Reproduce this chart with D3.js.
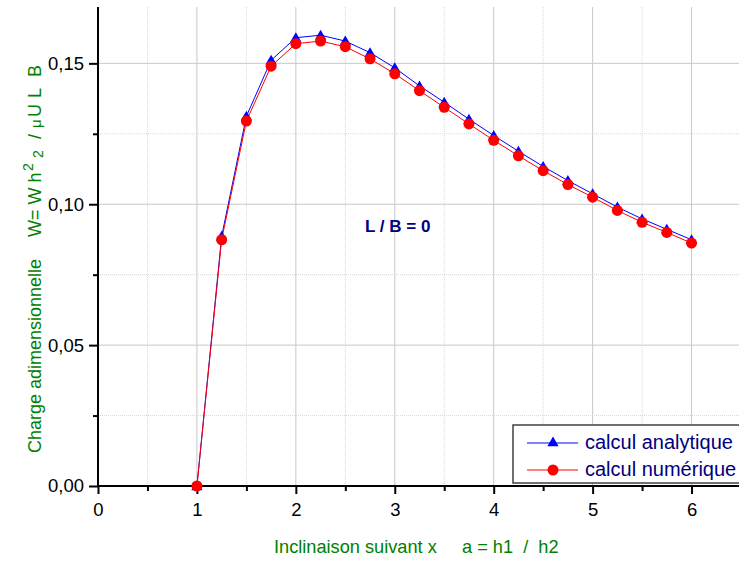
<!DOCTYPE html>
<html>
<head>
<meta charset="utf-8">
<script src="https://cdn.jsdelivr.net/npm/d3@7"></script>
<style>
  html, body { margin: 0; padding: 0; background: #ffffff; }
  svg { display: block; }
  text { font-family: Arial, "Liberation Sans", sans-serif; }
</style>
</head>
<body>
<svg id="chart" width="739" height="563"></svg>
<script>
// ---- data ----
const xValues = [1, 1.25, 1.5, 1.75, 2, 2.25, 2.5, 2.75, 3, 3.25, 3.5, 3.75, 4, 4.25, 4.5, 4.75, 5, 5.25, 5.5, 5.75, 6];
const analytique = [0, 0.0886, 0.1312, 0.1511, 0.1591, 0.1600, 0.1579, 0.1538, 0.1484, 0.1420, 0.1362, 0.1302, 0.1244, 0.1188, 0.1134, 0.1084, 0.1037, 0.0990, 0.0948, 0.0911, 0.0874];
const numerique  = [0, 0.0874, 0.1295, 0.1490, 0.1570, 0.1579, 0.1559, 0.1516, 0.1463, 0.1403, 0.1344, 0.1285, 0.1227, 0.1172, 0.1119, 0.1070, 0.1025, 0.0978, 0.0936, 0.0900, 0.0862];
const xMajorTicks = [0, 1, 2, 3, 4, 5, 6];
const xMinorTicks = [0.5, 1.5, 2.5, 3.5, 4.5, 5.5, 6.5];
const yMajorTicks = [0, 0.05, 0.10, 0.15];
const yMinorTicks = [0.025, 0.075, 0.125];
const seriesNames = ["calcul analytique", "calcul numérique"];
const annotation = "L / B = 0";

// ---- layout ----
const svg = d3.select("#chart");
const x = d3.scaleLinear().domain([0, 6.5]).range([98, 741]);
const y = d3.scaleLinear().domain([0, 0.17]).range([486, 7]);
const fmt = v => d3.format(".2f")(v).replace(".", ",");
const navy = "#000080";
const green = "#008000";

// grid
const grid = svg.append("g");
grid.selectAll(".vmaj").data(xMajorTicks.filter(d => d > 0)).enter().append("line")
  .attr("x1", d => x(d)).attr("x2", d => x(d)).attr("y1", y(0.17)).attr("y2", y(0))
  .attr("stroke", "#c8c8c8").attr("stroke-width", 1);
grid.selectAll(".vmin").data(xMinorTicks).enter().append("line")
  .attr("x1", d => x(d)).attr("x2", d => x(d)).attr("y1", y(0.17)).attr("y2", y(0))
  .attr("stroke", "#d8d8d8").attr("stroke-width", 1).attr("stroke-dasharray", "1,1");
grid.selectAll(".hmaj").data(yMajorTicks.filter(d => d > 0)).enter().append("line")
  .attr("x1", x(0)).attr("x2", x(6.5)).attr("y1", d => y(d)).attr("y2", d => y(d))
  .attr("stroke", "#c8c8c8").attr("stroke-width", 1);
grid.selectAll(".hmin").data(yMinorTicks).enter().append("line")
  .attr("x1", x(0)).attr("x2", x(6.5)).attr("y1", d => y(d)).attr("y2", d => y(d))
  .attr("stroke", "#d8d8d8").attr("stroke-width", 1).attr("stroke-dasharray", "1,1");

// axes
const xAxis = svg.append("g").attr("transform", `translate(0,${y(0)})`)
  .call(d3.axisBottom(x).tickValues(xMajorTicks).tickFormat(d3.format("d")).tickSize(8).tickPadding(9));
const xAxisMinor = svg.append("g").attr("transform", `translate(0,${y(0)})`)
  .call(d3.axisBottom(x).tickValues(xMinorTicks).tickFormat("").tickSize(5));
const yAxis = svg.append("g").attr("transform", `translate(${x(0)},0)`)
  .call(d3.axisLeft(y).tickValues(yMajorTicks).tickFormat(fmt).tickSize(9).tickPadding(5));
const yAxisMinor = svg.append("g").attr("transform", `translate(${x(0)},0)`)
  .call(d3.axisLeft(y).tickValues(yMinorTicks).tickFormat("").tickSize(5));
[xAxis, xAxisMinor, yAxis, yAxisMinor].forEach(g => {
  g.select(".domain").attr("stroke", "#000").attr("stroke-width", 2);
  g.selectAll(".tick line").attr("stroke", "#000").attr("stroke-width", 2);
  g.selectAll("text").attr("font-size", 18.5).attr("fill", "#000")
    .style("font-family", "Arial, 'Liberation Sans', sans-serif");
});
yAxis.select(".domain").attr("d", `M0,${y(0.17)}V${y(0)}`);
yAxisMinor.select(".domain").remove();
xAxisMinor.select(".domain").remove();
xAxis.select(".domain").attr("d", `M${x(0)},0H${x(6.5)}`);

// series
const pts = (vals) => xValues.map((d, i) => [d, vals[i]]);
const line = d3.line().x(d => x(d[0])).y(d => y(d[1]));
const tri = d3.symbol().type(d3.symbolTriangle).size(55);

svg.append("path").datum(pts(analytique)).attr("d", line)
  .attr("fill", "none").attr("stroke", "#0000ff").attr("stroke-width", 1);
svg.append("path").datum(pts(numerique)).attr("d", line)
  .attr("fill", "none").attr("stroke", "#ff0000").attr("stroke-width", 1);
svg.append("g").selectAll("path").data(pts(analytique)).enter().append("path")
  .attr("d", tri).attr("transform", d => `translate(${x(d[0])},${y(d[1]) + 1})`)
  .attr("fill", "#0000ff");
svg.append("g").selectAll("circle").data(pts(numerique)).enter().append("circle")
  .attr("cx", d => x(d[0])).attr("cy", d => y(d[1])).attr("r", 5.5)
  .attr("fill", "#ff0000");

// annotation
svg.append("text").attr("x", 365).attr("y", 232).attr("font-size", 17)
  .attr("font-weight", "bold").attr("fill", navy).style("white-space", "pre")
  .text(annotation);

// axis titles
svg.append("text").attr("x", 274).attr("y", 553).attr("font-size", 18.2)
  .attr("fill", green).style("white-space", "pre")
  .text("Inclinaison suivant x     a = h1  /  h2");

const yt = svg.append("text").attr("transform", "translate(41,453) rotate(-90)")
  .attr("font-size", 18).attr("fill", green).style("white-space", "pre");
yt.append("tspan").attr("x", 0).text("Charge adimensionnelle");
yt.append("tspan").attr("x", 216).text("W= W h");
yt.append("tspan").attr("x", 282).attr("dy", -8).attr("font-size", 14).text("2");
yt.append("tspan").attr("x", 295).attr("dy", 10).attr("font-size", 14).text("2");
yt.append("tspan").attr("x", 314).attr("dy", -2).text("/");
yt.append("tspan").attr("x", 325).attr("font-size", 15).text("μ");
yt.append("tspan").attr("x", 336).text("U");
yt.append("tspan").attr("x", 355).text("L");
yt.append("tspan").attr("x", 376).text("B");

// legend
const lg = svg.append("g");
lg.append("rect").attr("x", 513).attr("y", 425).attr("width", 240).attr("height", 58)
  .attr("fill", "#ffffff").attr("stroke", "#404040").attr("stroke-width", 1.5);
const legendRows = [
  { name: seriesNames[0], color: "#0000ff", sym: "tri", yy: 443 },
  { name: seriesNames[1], color: "#ff0000", sym: "circ", yy: 470 }
];
legendRows.forEach(r => {
  lg.append("line").attr("x1", 527).attr("x2", 578).attr("y1", r.yy).attr("y2", r.yy)
    .attr("stroke", r.color).attr("stroke-width", 1);
  if (r.sym === "tri") {
    lg.append("path").attr("d", tri).attr("transform", `translate(553,${r.yy})`).attr("fill", r.color);
  } else {
    lg.append("circle").attr("cx", 553).attr("cy", r.yy).attr("r", 5.5).attr("fill", r.color);
  }
  lg.append("text").attr("x", 585).attr("y", r.yy + 6).attr("font-size", 20)
    .attr("fill", navy).text(r.name);
});
</script>
</body>
</html>
